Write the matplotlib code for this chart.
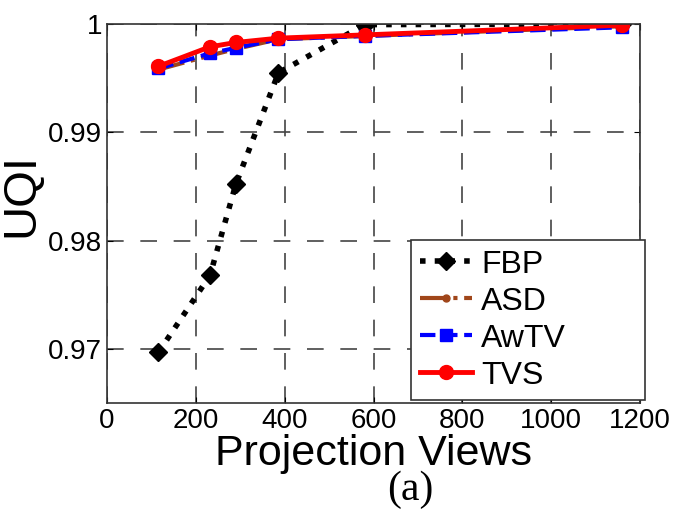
import matplotlib
matplotlib.use("Agg")
import matplotlib.pyplot as plt

plt.rcParams['font.family'] = ['Liberation Sans', 'DejaVu Sans']

views = [116, 232, 290, 386, 580, 1160]
uqi_fbp = [0.9697, 0.9768, 0.9852, 0.9955, 0.99995, 1.0]
uqi_asd = [0.9958, 0.9971, 0.9977, 0.9986, 0.9989, 0.9998]
uqi_awtv = [0.9959, 0.9973, 0.9978, 0.9986, 0.9989, 0.9997]
uqi_tvs = [0.9961, 0.9979, 0.9983, 0.9987, 0.9990, 0.9999]

x_ticks = [0, 200, 400, 600, 800, 1000, 1200]
y_ticks = [0.97, 0.98, 0.99, 1.0]
y_ticklabels = ['0.97', '0.98', '0.99', '1']

fig = plt.figure(figsize=(6.81, 5.23), dpi=100)
ax = fig.add_axes([0.157, 0.229, 0.783, 0.725])

ax.plot(views, uqi_fbp, color='black', linestyle=':', linewidth=4,
        marker='D', markersize=9, markerfacecolor='black', label='FBP')
ax.plot(views, uqi_asd, color='#a0461a', linestyle='-.', linewidth=3,
        marker='o', markersize=5, label='ASD')
ax.plot(views, uqi_awtv, color='#0000ff', linestyle='--', linewidth=3,
        marker='s', markersize=8, label='AwTV')
ax.plot(views, uqi_tvs, color='#ff0000', linestyle='-', linewidth=3.5,
        marker='o', markersize=10, label='TVS')

ax.set_xlim(0, 1200)
ax.set_ylim(0.965, 1.0)
ax.set_xticks(x_ticks)
ax.set_yticks(y_ticks)
ax.set_yticklabels(y_ticklabels)
ax.tick_params(direction='in', length=4, labelsize=20, top=True, right=True)

ax.grid(True, color='#444444', linestyle=(0, (10, 10)), linewidth=1.2)
for sp in ax.spines.values():
    sp.set_color('#333333')
    sp.set_linewidth(1.2)

ax.set_xlabel('Projection Views', fontsize=31, labelpad=0)
ax.set_ylabel('UQI', fontsize=34)
ax.yaxis.set_label_coords(-0.12, 0.55)

# wide legend box in the lower right corner, slightly past the right spine
leg = ax.legend(loc='lower left', bbox_to_anchor=(0.570, 0.008, 0.439, 0.4),
                mode='expand', fontsize=23, borderaxespad=0, fancybox=False,
                framealpha=1, edgecolor='#333333', handlelength=1.6,
                labelspacing=0.22, borderpad=0.3, handletextpad=0.3)
leg.get_frame().set_linewidth(1.2)

fig.text(0.602, 0.063, '(a)', fontsize=30, family='Liberation Serif',
         ha='center', va='center')

fig.savefig('out.png', dpi=100)
